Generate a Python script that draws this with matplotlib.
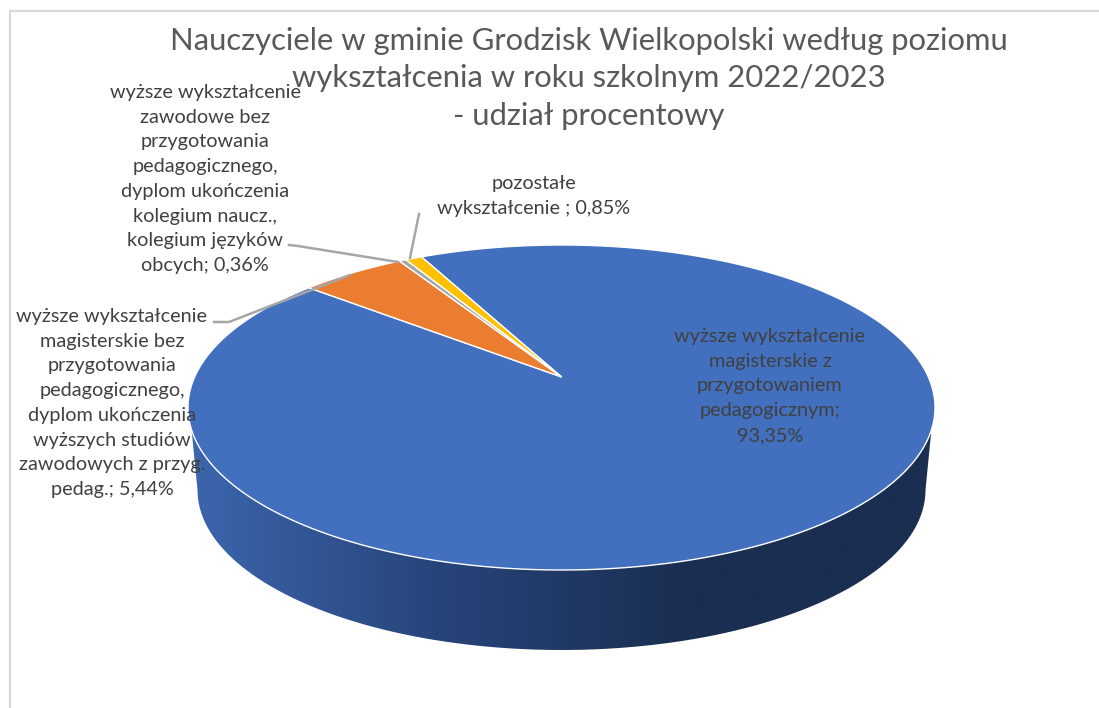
import numpy as np
import matplotlib
matplotlib.use("Agg")
import matplotlib.pyplot as plt
from matplotlib.patches import Polygon, PathPatch
from matplotlib.path import Path
from matplotlib.colors import LinearSegmentedColormap

title = "Nauczyciele w gminie Grodzisk Wielkopolski według poziomu\nwykształcenia w roku szkolnym 2022/2023\n- udział procentowy"
categories = [
    "wyższe wykształcenie\nmagisterskie z\nprzygotowaniem\npedagogicznym;\n93,35%",
    "wyższe wykształcenie\nmagisterskie bez\nprzygotowania\npedagogicznego,\ndyplom ukończenia\nwyższych studiów\nzawodowych z przyg.\npedag.; 5,44%",
    "wyższe wykształcenie\nzawodowe bez\nprzygotowania\npedagogicznego,\ndyplom ukończenia\nkolegium naucz.,\nkolegium języków\nobcych; 0,36%",
    "pozostałe\nwykształcenie ; 0,85%",
]
values = [93.35, 5.44, 0.36, 0.85]
colors = ["#4270BF", "#EB7D31", "#A5A5A5", "#FFC000"]
label_pos = [(770, 386), (112, 403), (205, 179), (534, 196)]
leaders = [None, [(214, 322), (229, 322), (350, 275)],
           [(289, 245), (298, 246), (398, 262)],
           [(419, 214), (410, 258)]]

W, H = 1099, 708
fig = plt.figure(figsize=(W / 100, H / 100), dpi=100)
ax = fig.add_axes([0, 0, 1, 1])
ax.set_xlim(0, W); ax.set_ylim(H, 0); ax.axis("off")

# frame
ax.plot([10, 10, W], [H, 10.5, 10.5], color="#D9D9D9", lw=1.6, zorder=1)

CX, CY, A, B = 561.5, 407.5, 373.5, 162.5
APEX_K = 0.188
START = -26.5  # degrees clockwise from top


def rim(theta_deg):
    """Perspective projection of a unit-circle rim point."""
    t = np.radians(theta_deg)
    x, y = np.sin(t), np.cos(t)
    k = APEX_K
    d = 1 + k * y
    xp = x * np.sqrt(1 - k * k) / d
    yp = (y + k) / d
    return CX + A * xp, CY - B * yp


apex = (CX, CY - B * APEX_K)

# side wall
A2, CY2, B2 = 364, 490, 160
tb = np.radians(np.linspace(0, 180, 200))
tt = np.radians(np.linspace(172, 8, 200))
side = np.column_stack([np.r_[CX + A2 * np.cos(tb), CX + A * np.cos(tt)],
                        np.r_[CY2 + B2 * np.sin(tb), CY + B * np.sin(tt)]])
cmap = LinearSegmentedColormap.from_list("side", ["#3C66AE", "#27447A", "#1A2E51", "#1A2E51"])
im = ax.imshow(np.linspace(0, 1, 256)[None, :], extent=(188, 935, H, 0), cmap=cmap,
               aspect="auto", zorder=2)
clip = PathPatch(Path(side), transform=ax.transData, fc="none", ec="none")
ax.add_patch(clip)
im.set_clip_path(clip)
ax.set_xlim(0, W); ax.set_ylim(H, 0)

# top face
cum = START
for v, c in zip(values, colors):
    sweep = v / sum(values) * 360
    th = np.linspace(cum, cum + sweep, max(int(sweep * 2), 6))
    xs, ys = rim(th)
    pts = np.column_stack([np.r_[apex[0], xs], np.r_[apex[1], ys]])
    ax.add_patch(Polygon(pts, closed=True, fc=c, ec="white", lw=1.0, zorder=3))
    cum += sweep

# leader lines
for pts in leaders:
    if pts:
        ax.plot(*zip(*pts), color="#A6A6A6", lw=1.8, zorder=4, solid_joinstyle="round")

# labels
for text, (x, y) in zip(categories, label_pos):
    ax.text(x, y, text, ha="center", va="center", multialignment="center",
            family="Lato", fontsize=14.3, color="#404040", linespacing=1.55, zorder=5)

ax.text(589, 78.5, title, ha="center", va="center", multialignment="center",
        family="Lato", fontsize=22.3, color="#595959", linespacing=1.41, zorder=5)

fig.savefig("out.png", dpi=100)
